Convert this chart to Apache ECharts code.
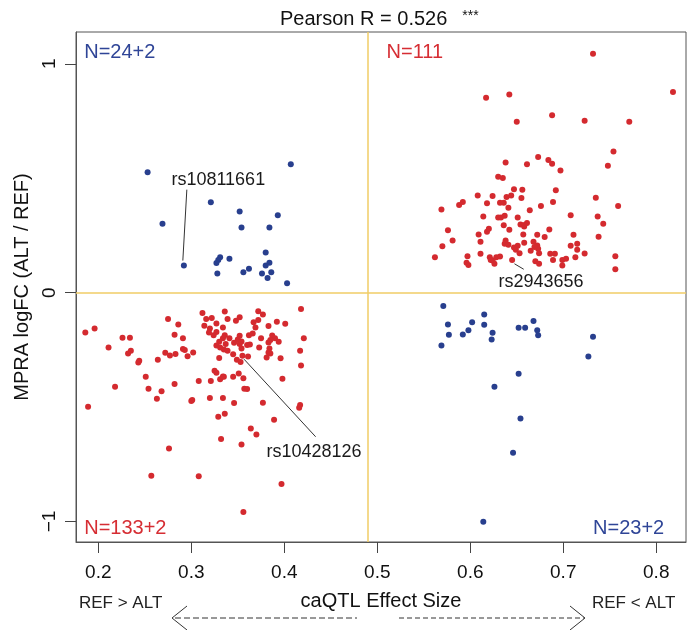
<!DOCTYPE html>
<html lang="en">
<head>
<meta charset="UTF-8">
<title>caQTL vs MPRA</title>
<script src="https://cdn.jsdelivr.net/npm/echarts@6/dist/echarts.min.js"></script>
<style>
  html, body { margin: 0; padding: 0; background: #fff; }
  #main { width: 688px; height: 630px; }
</style>
</head>
<body>
<div id="main"></div>
<script>
// axis ticks and quadrant cut-offs
var xTicks = [0.2, 0.3, 0.4, 0.5, 0.6, 0.7, 0.8];
var yTicks = [-1, 0, 1];
var cutX = 0.4946, cutY = 0;

// points: [effect size, logFC]
var redUpper = [
  [0.732,1.044],[0.818,0.877],[0.617,0.852],[0.642,0.866],[0.650,0.747],[0.688,0.775],[0.723,0.751],[0.771,0.747],
  [0.754,0.617],[0.748,0.554],[0.673,0.593],[0.684,0.580],[0.688,0.563],[0.638,0.569],[0.661,0.561],[0.697,0.534],
  [0.630,0.506],[0.635,0.501],[0.692,0.447],[0.735,0.415],[0.759,0.379],[0.737,0.333],[0.743,0.301],[0.738,0.244],
  [0.756,0.159],[0.756,0.102],[0.569,0.363],[0.562,0.155],[0.576,0.272],[0.581,0.228],[0.570,0.203],[0.588,0.383],
  [0.592,0.396],[0.608,0.424],[0.624,0.422],[0.618,0.390],[0.614,0.333],[0.597,0.159],[0.596,0.130],[0.598,0.121],
  [0.609,0.254],[0.611,0.222],[0.611,0.170],[0.618,0.266],[0.620,0.279],[0.621,0.154],[0.624,0.140],[0.626,0.126],
  [0.628,0.154],[0.632,0.158],[0.632,0.393],[0.636,0.393],[0.639,0.418],[0.644,0.424],[0.647,0.452],[0.656,0.449],
  [0.655,0.414],[0.641,0.371],[0.630,0.328],[0.633,0.328],[0.637,0.336],[0.636,0.294],[0.642,0.275],[0.651,0.328],
  [0.654,0.298],[0.658,0.289],[0.661,0.304],[0.657,0.254],[0.664,0.360],[0.676,0.379],[0.689,0.396],[0.685,0.276],
  [0.680,0.243],[0.708,0.338],[0.711,0.253],[0.715,0.214],[0.708,0.205],[0.715,0.187],[0.723,0.171],[0.638,0.228],
  [0.637,0.214],[0.641,0.209],[0.647,0.197],[0.651,0.205],[0.649,0.187],[0.658,0.218],[0.653,0.172],[0.665,0.183],
  [0.668,0.222],[0.672,0.206],[0.673,0.192],[0.674,0.172],[0.669,0.199],[0.686,0.170],[0.691,0.170],[0.689,0.143],
  [0.670,0.137],[0.674,0.126],[0.645,0.143],[0.699,0.143],[0.699,0.118],[0.703,0.148],[0.713,0.154],[0.622,0.143],
  [0.672,0.253],[0.658,0.296]
];
var redLower = [
  [0.186,-0.174],[0.196,-0.157],[0.189,-0.499],[0.211,-0.240],[0.218,-0.412],[0.226,-0.197],[0.234,-0.197],[0.235,-0.254],
  [0.232,-0.266],[0.244,-0.298],[0.243,-0.306],[0.251,-0.368],[0.254,-0.420],[0.263,-0.464],[0.268,-0.431],[0.264,-0.294],
  [0.272,-0.263],[0.277,-0.275],[0.283,-0.268],[0.275,-0.115],[0.286,-0.139],[0.282,-0.184],[0.291,-0.200],[0.291,-0.247],
  [0.293,-0.251],[0.296,-0.278],[0.302,-0.262],[0.282,-0.399],[0.276,-0.681],[0.257,-0.800],[0.308,-0.803],[0.301,-0.469],
  [0.300,-0.474],[0.308,-0.386],[0.320,-0.461],[0.321,-0.386],[0.325,-0.342],[0.327,-0.350],[0.331,-0.379],[0.335,-0.368],
  [0.329,-0.543],[0.336,-0.529],[0.334,-0.461],[0.332,-0.640],[0.346,-0.482],[0.345,-0.368],[0.351,-0.354],[0.356,-0.374],
  [0.357,-0.420],[0.360,-0.421],[0.354,-0.664],[0.356,-0.959],[0.364,-0.594],[0.370,-0.620],[0.377,-0.481],[0.389,-0.556],
  [0.397,-0.836],[0.398,-0.377],[0.396,-0.287],[0.417,-0.254],[0.418,-0.319],[0.417,-0.491],[0.416,-0.503],[0.421,-0.200],
  [0.418,-0.072],[0.312,-0.089],[0.336,-0.083],[0.316,-0.115],[0.322,-0.111],[0.339,-0.115],[0.348,-0.123],[0.352,-0.108],
  [0.372,-0.082],[0.377,-0.096],[0.314,-0.145],[0.320,-0.157],[0.327,-0.135],[0.334,-0.152],[0.367,-0.130],[0.372,-0.120],
  [0.369,-0.152],[0.383,-0.146],[0.392,-0.127],[0.401,-0.136],[0.319,-0.174],[0.327,-0.172],[0.324,-0.186],[0.336,-0.186],
  [0.334,-0.200],[0.341,-0.200],[0.352,-0.189],[0.350,-0.205],[0.362,-0.186],[0.366,-0.179],[0.375,-0.200],[0.387,-0.187],
  [0.390,-0.199],[0.385,-0.207],[0.383,-0.218],[0.394,-0.215],[0.330,-0.215],[0.327,-0.231],[0.331,-0.240],[0.337,-0.225],
  [0.335,-0.249],[0.339,-0.254],[0.346,-0.219],[0.352,-0.225],[0.354,-0.214],[0.360,-0.229],[0.363,-0.227],[0.373,-0.240],
  [0.384,-0.244],[0.383,-0.262],[0.385,-0.266],[0.381,-0.284],[0.354,-0.244],[0.345,-0.269],[0.349,-0.293],[0.353,-0.303],
  [0.355,-0.276],[0.361,-0.279],[0.330,-0.286],[0.334,-0.367]
];
var blueUpper = [
  [0.253,0.526],[0.407,0.561],[0.321,0.395],[0.352,0.355],[0.393,0.338],[0.269,0.301],[0.354,0.285],[0.384,0.285],
  [0.380,0.175],[0.292,0.118],[0.331,0.155],[0.329,0.143],[0.327,0.129],[0.341,0.148],[0.328,0.083],[0.356,0.089],
  [0.362,0.104],[0.384,0.130],[0.380,0.118],[0.376,0.083],[0.386,0.089],[0.382,0.064],[0.403,0.041]
];
var blueLower = [
  [0.571,-0.058],[0.576,-0.139],[0.577,-0.184],[0.569,-0.231],[0.592,-0.183],[0.598,-0.164],[0.602,-0.130],[0.615,-0.096],
  [0.615,-0.140],[0.624,-0.175],[0.623,-0.205],[0.652,-0.154],[0.659,-0.154],[0.668,-0.124],[0.672,-0.164],[0.673,-0.186],
  [0.732,-0.193],[0.727,-0.279],[0.652,-0.355],[0.626,-0.412],[0.654,-0.550],[0.646,-0.700],[0.614,-1.001]
];

// labelled SNPs
var noteNames = ['rs10811661', 'rs10428126', 'rs2943656'];
var noteText = [[0.329, 0.491], [0.432, -0.697], [0.676, 0.046]];
var noteLine = [
  [[0.2952, 0.450], [0.2909, 0.140]],
  [[0.3567, -0.291], [0.4337, -0.630]],
  [[0.6475, 0.126], [0.6575, 0.102]]
];

// quadrant counts
var countNames = ['N=24+2', 'N=111', 'N=133+2', 'N=23+2'];
var countPos = [[0.1848, 1.048], [0.510, 1.048], [0.1848, -1.033], [0.8086, -1.033]];
var countColor = ['#2f4597', '#d62d33', '#d62d33', '#2f4597'];
var countAlign = ['left', 'left', 'left', 'right'];

var RED = '#d42a2f', BLUE = '#283f8e', FONT = 'Liberation Sans';

var chart = echarts.init(document.getElementById('main'));

var countData = countNames.map(function (n, i) {
  return {
    name: n, value: countPos[i],
    label: { color: countColor[i], align: countAlign[i] }
  };
});
var noteData = noteNames.map(function (n, i) {
  return { name: n, value: noteText[i] };
});
var lineData = noteLine.map(function (c) { return { coords: c }; });

var option = {
  animation: false,
  backgroundColor: '#fff',
  textStyle: { fontFamily: FONT },
  title: {
    text: '{m|Pearson R = 0.526}   {s|***}',
    left: 275, top: 4,
    textStyle: {
      fontWeight: 'normal',
      rich: {
        m: { fontSize: 20, color: '#111', fontFamily: FONT, fontWeight: 'normal' },
        s: { fontSize: 14, color: '#111', fontFamily: FONT, fontWeight: 'normal', verticalAlign: 'top', padding: [0, 0, 5, 0] }
      }
    }
  },
  grid: {
    left: 76, right: 2, top: 32, bottom: 88,
    show: true, borderColor: '#555', borderWidth: 1
  },
  xAxis: {
    type: 'value', min: 0.176, max: 0.832,
    splitLine: { show: false },
    axisLine: { show: true, onZero: false, lineStyle: { color: '#555', width: 1 } },
    axisTick: { show: true, inside: false, customValues: xTicks, length: 11, lineStyle: { color: '#444', width: 1 } },
    axisLabel: {
      customValues: xTicks, margin: 21, fontSize: 19, color: '#111',
      formatter: function (v) { return v.toFixed(1); }
    },
    name: 'caQTL Effect Size', nameLocation: 'middle', nameGap: 49,
    nameTextStyle: { fontSize: 20, color: '#111' }
  },
  yAxis: {
    type: 'value', min: -1.09, max: 1.139,
    splitLine: { show: false },
    axisLine: { show: true, onZero: false, lineStyle: { color: '#555', width: 1 } },
    axisTick: { show: true, inside: false, customValues: yTicks, length: 11, lineStyle: { color: '#444', width: 1 } },
    axisLabel: {
      customValues: yTicks, rotate: 90, margin: 17, fontSize: 19, color: '#111',
      formatter: function (v) { return v < 0 ? '\u2212' + Math.abs(v) : String(v); }
    },
    name: 'MPRA logFC (ALT / REF)', nameLocation: 'middle', nameGap: 42, nameRotate: 90,
    nameTextStyle: { fontSize: 20, color: '#111' }
  },
  series: [
    {
      type: 'scatter', data: redUpper.concat(redLower), symbolSize: 6,
      itemStyle: { color: RED, opacity: 1 }, z: 3,
      markLine: {
        silent: true, symbol: 'none', label: { show: false },
        lineStyle: { color: '#f0cc66', width: 1.5, type: 'solid' },
        data: [{ xAxis: cutX }, { yAxis: cutY }]
      }
    },
    {
      type: 'scatter', data: blueUpper.concat(blueLower), symbolSize: 6,
      itemStyle: { color: BLUE, opacity: 1 }, z: 3
    },
    {
      type: 'lines', coordinateSystem: 'cartesian2d', data: lineData,
      lineStyle: { color: '#333', width: 1, opacity: 1 }, silent: true, z: 4
    },
    {
      type: 'scatter', data: noteData, symbolSize: 0, silent: true, z: 5,
      itemStyle: { opacity: 1 },
      label: {
        show: true, position: 'inside', formatter: '{b}', opacity: 1,
        fontSize: 18, color: '#1a1a1a', fontFamily: FONT, textBorderWidth: 0
      }
    },
    {
      type: 'scatter', data: countData, symbolSize: 0, silent: true, z: 5,
      itemStyle: { opacity: 1 },
      label: {
        show: true, position: 'inside', formatter: '{b}', textBorderWidth: 0, opacity: 1,
        fontSize: 20, fontFamily: FONT, verticalAlign: 'middle'
      }
    }
  ],
  graphic: [
    { type: 'text', left: 79, top: 595, style: { text: 'REF > ALT', fontSize: 17, fill: '#222', fontFamily: FONT } },
    { type: 'text', left: 592, top: 595, style: { text: 'REF < ALT', fontSize: 17, fill: '#222', fontFamily: FONT } },
    { type: 'polyline', shape: { points: [[175, 618], [357, 618]] }, style: { stroke: '#333', lineWidth: 1, lineDash: [6, 3] } },
    { type: 'polyline', shape: { points: [[187, 606], [172, 618], [187, 630]] }, style: { stroke: '#333', lineWidth: 1, fill: null } },
    { type: 'polyline', shape: { points: [[399, 618], [584, 618]] }, style: { stroke: '#333', lineWidth: 1, lineDash: [5, 3] } },
    { type: 'polyline', shape: { points: [[570, 606], [585, 618], [570, 630]] }, style: { stroke: '#333', lineWidth: 1, fill: null } }
  ]
};

chart.setOption(option);
</script>
</body>
</html>
